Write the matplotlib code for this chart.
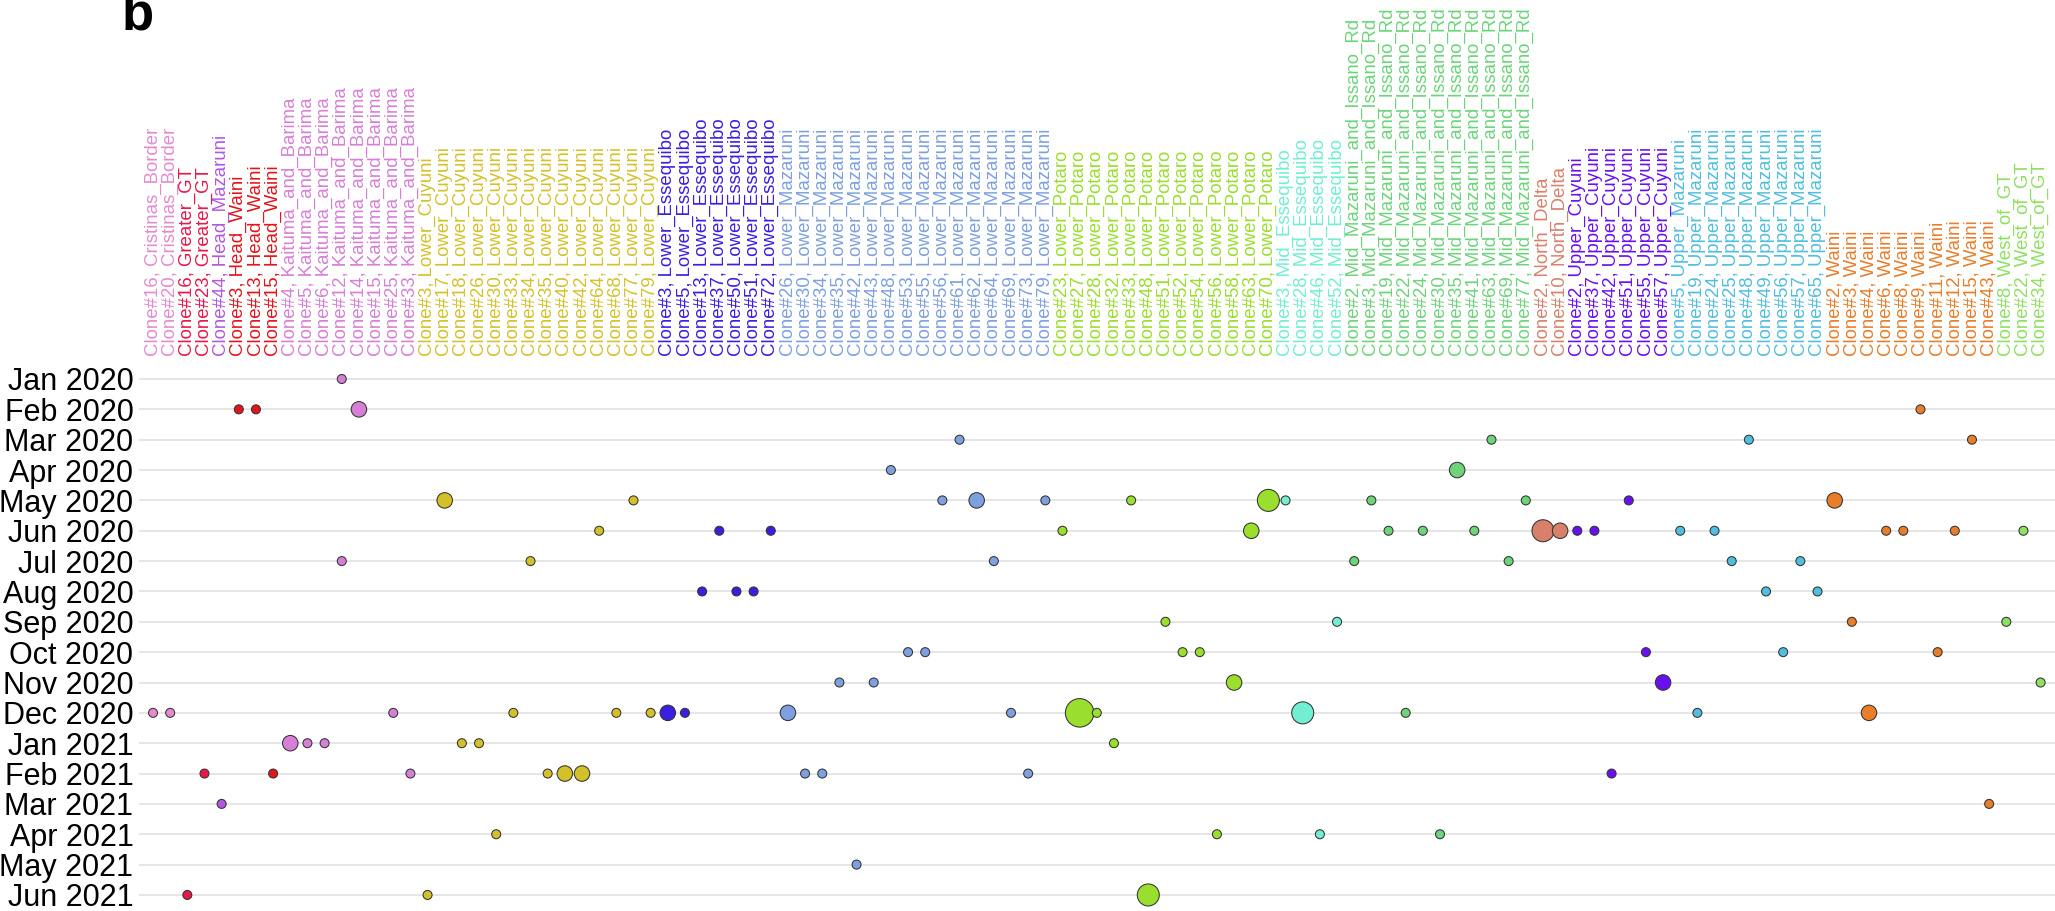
import matplotlib
matplotlib.use("Agg")
import matplotlib.pyplot as plt

plt.rcParams['font.family'] = ['Liberation Sans', 'DejaVu Sans']

months = ["Jan 2020", "Feb 2020", "Mar 2020", "Apr 2020", "May 2020", "Jun 2020",
          "Jul 2020", "Aug 2020", "Sep 2020", "Oct 2020", "Nov 2020", "Dec 2020",
          "Jan 2021", "Feb 2021", "Mar 2021", "Apr 2021", "May 2021", "Jun 2021"]

# clone numbers per region, in the order they appear on the x axis
regions = ["Cristinas_Border", "Greater_GT", "Head_Mazaruni", "Head_Waini",
           "Kaituma_and_Barima", "Lower_Cuyuni", "Lower_Essequibo", "Lower_Mazaruni",
           "Lower_Potaro", "Mid_Essequibo", "Mid_Mazaruni_and_Issano_Rd", "North_Delta",
           "Upper_Cuyuni", "Upper_Mazaruni", "Waini", "West_of_GT"]
region_clones = [
    [16, 20],
    [16, 23],
    [44],
    [3, 13, 15],
    [4, 5, 6, 12, 14, 15, 25, 33],
    [3, 17, 18, 26, 30, 33, 34, 35, 40, 42, 64, 68, 77, 79],
    [3, 5, 13, 37, 50, 51, 72],
    [26, 30, 34, 35, 42, 43, 48, 53, 55, 56, 61, 62, 64, 69, 73, 79],
    [23, 27, 28, 32, 33, 48, 51, 52, 54, 56, 58, 63, 70],
    [3, 28, 46, 52],
    [2, 3, 19, 22, 24, 30, 35, 41, 63, 69, 77],
    [2, 10],
    [2, 37, 42, 51, 55, 57],
    [5, 19, 24, 25, 48, 49, 56, 57, 65],
    [2, 3, 4, 6, 8, 9, 11, 12, 15, 43],
    [8, 22, 34],
]
region_colors = ["#E68AD0", "#E8174A", "#B357E0", "#E3141C", "#D77FD6", "#D4C12A",
                 "#3A1FE0", "#7EA0E0", "#9ADE2E", "#72EED2", "#6DD47A", "#D9806A",
                 "#6A10F0", "#50BEDF", "#E87D2A", "#8EE060"]

# (region, clone, month, count)
detections = [
    ("Kaituma_and_Barima", 12, "Jan 2020", 1),
    ("Head_Waini", 3, "Feb 2020", 1), ("Head_Waini", 13, "Feb 2020", 1),
    ("Kaituma_and_Barima", 14, "Feb 2020", 2), ("Waini", 9, "Feb 2020", 1),
    ("Lower_Mazaruni", 61, "Mar 2020", 1), ("Mid_Mazaruni_and_Issano_Rd", 63, "Mar 2020", 1),
    ("Upper_Mazaruni", 48, "Mar 2020", 1), ("Waini", 15, "Mar 2020", 1),
    ("Lower_Mazaruni", 48, "Apr 2020", 1), ("Mid_Mazaruni_and_Issano_Rd", 35, "Apr 2020", 2),
    ("Lower_Cuyuni", 17, "May 2020", 2), ("Lower_Cuyuni", 77, "May 2020", 1),
    ("Lower_Mazaruni", 56, "May 2020", 1), ("Lower_Mazaruni", 62, "May 2020", 2),
    ("Lower_Mazaruni", 79, "May 2020", 1), ("Lower_Potaro", 33, "May 2020", 1),
    ("Lower_Potaro", 70, "May 2020", 3), ("Mid_Essequibo", 3, "May 2020", 1),
    ("Mid_Mazaruni_and_Issano_Rd", 3, "May 2020", 1), ("Mid_Mazaruni_and_Issano_Rd", 77, "May 2020", 1),
    ("Upper_Cuyuni", 51, "May 2020", 1), ("Waini", 2, "May 2020", 2),
    ("Lower_Cuyuni", 64, "Jun 2020", 1), ("Lower_Essequibo", 37, "Jun 2020", 1),
    ("Lower_Essequibo", 72, "Jun 2020", 1), ("Lower_Potaro", 23, "Jun 2020", 1),
    ("Lower_Potaro", 63, "Jun 2020", 2), ("Mid_Mazaruni_and_Issano_Rd", 19, "Jun 2020", 1),
    ("Mid_Mazaruni_and_Issano_Rd", 24, "Jun 2020", 1), ("Mid_Mazaruni_and_Issano_Rd", 41, "Jun 2020", 1),
    ("North_Delta", 2, "Jun 2020", 3), ("North_Delta", 10, "Jun 2020", 2),
    ("Upper_Cuyuni", 2, "Jun 2020", 1), ("Upper_Cuyuni", 37, "Jun 2020", 1),
    ("Upper_Mazaruni", 5, "Jun 2020", 1), ("Upper_Mazaruni", 24, "Jun 2020", 1),
    ("Waini", 6, "Jun 2020", 1), ("Waini", 8, "Jun 2020", 1), ("Waini", 12, "Jun 2020", 1),
    ("West_of_GT", 22, "Jun 2020", 1),
    ("Kaituma_and_Barima", 12, "Jul 2020", 1), ("Lower_Cuyuni", 34, "Jul 2020", 1),
    ("Lower_Mazaruni", 64, "Jul 2020", 1), ("Mid_Mazaruni_and_Issano_Rd", 2, "Jul 2020", 1),
    ("Mid_Mazaruni_and_Issano_Rd", 69, "Jul 2020", 1), ("Upper_Mazaruni", 25, "Jul 2020", 1),
    ("Upper_Mazaruni", 57, "Jul 2020", 1),
    ("Lower_Essequibo", 13, "Aug 2020", 1), ("Lower_Essequibo", 50, "Aug 2020", 1),
    ("Lower_Essequibo", 51, "Aug 2020", 1), ("Upper_Mazaruni", 49, "Aug 2020", 1),
    ("Upper_Mazaruni", 65, "Aug 2020", 1),
    ("Lower_Potaro", 51, "Sep 2020", 1), ("Mid_Essequibo", 52, "Sep 2020", 1),
    ("Waini", 3, "Sep 2020", 1), ("West_of_GT", 8, "Sep 2020", 1),
    ("Lower_Mazaruni", 53, "Oct 2020", 1), ("Lower_Mazaruni", 55, "Oct 2020", 1),
    ("Lower_Potaro", 52, "Oct 2020", 1), ("Lower_Potaro", 54, "Oct 2020", 1),
    ("Upper_Cuyuni", 55, "Oct 2020", 1), ("Upper_Mazaruni", 56, "Oct 2020", 1),
    ("Waini", 11, "Oct 2020", 1),
    ("Lower_Mazaruni", 35, "Nov 2020", 1), ("Lower_Mazaruni", 43, "Nov 2020", 1),
    ("Lower_Potaro", 58, "Nov 2020", 2), ("Upper_Cuyuni", 57, "Nov 2020", 2),
    ("West_of_GT", 34, "Nov 2020", 1),
    ("Cristinas_Border", 16, "Dec 2020", 1), ("Cristinas_Border", 20, "Dec 2020", 1),
    ("Kaituma_and_Barima", 25, "Dec 2020", 1), ("Lower_Cuyuni", 33, "Dec 2020", 1),
    ("Lower_Cuyuni", 68, "Dec 2020", 1), ("Lower_Cuyuni", 79, "Dec 2020", 1),
    ("Lower_Essequibo", 3, "Dec 2020", 2), ("Lower_Essequibo", 5, "Dec 2020", 1),
    ("Lower_Mazaruni", 26, "Dec 2020", 2), ("Lower_Mazaruni", 69, "Dec 2020", 1),
    ("Lower_Potaro", 27, "Dec 2020", 4), ("Lower_Potaro", 28, "Dec 2020", 1),
    ("Mid_Essequibo", 28, "Dec 2020", 3), ("Mid_Mazaruni_and_Issano_Rd", 22, "Dec 2020", 1),
    ("Upper_Mazaruni", 19, "Dec 2020", 1), ("Waini", 4, "Dec 2020", 2),
    ("Kaituma_and_Barima", 4, "Jan 2021", 2), ("Kaituma_and_Barima", 5, "Jan 2021", 1),
    ("Kaituma_and_Barima", 6, "Jan 2021", 1), ("Lower_Cuyuni", 18, "Jan 2021", 1),
    ("Lower_Cuyuni", 26, "Jan 2021", 1), ("Lower_Potaro", 32, "Jan 2021", 1),
    ("Greater_GT", 23, "Feb 2021", 1), ("Head_Waini", 15, "Feb 2021", 1),
    ("Kaituma_and_Barima", 33, "Feb 2021", 1), ("Lower_Cuyuni", 35, "Feb 2021", 1),
    ("Lower_Cuyuni", 40, "Feb 2021", 2), ("Lower_Cuyuni", 42, "Feb 2021", 2),
    ("Lower_Mazaruni", 30, "Feb 2021", 1), ("Lower_Mazaruni", 34, "Feb 2021", 1),
    ("Lower_Mazaruni", 73, "Feb 2021", 1), ("Upper_Cuyuni", 42, "Feb 2021", 1),
    ("Head_Mazaruni", 44, "Mar 2021", 1), ("Waini", 43, "Mar 2021", 1),
    ("Lower_Cuyuni", 30, "Apr 2021", 1), ("Lower_Potaro", 56, "Apr 2021", 1),
    ("Mid_Essequibo", 46, "Apr 2021", 1), ("Mid_Mazaruni_and_Issano_Rd", 30, "Apr 2021", 1),
    ("Lower_Mazaruni", 42, "May 2021", 1),
    ("Greater_GT", 16, "Jun 2021", 1), ("Lower_Cuyuni", 3, "Jun 2021", 1),
    ("Lower_Potaro", 48, "Jun 2021", 3),
]

# x axis categories
labels, label_colors = [], []
for reg, nums, col in zip(regions, region_clones, region_colors):
    for n in nums:
        labels.append(f"Clone#{n}, {reg}")
        label_colors.append(col)
color_of = dict(zip(regions, region_colors))

W, H = 2055, 911
fig = plt.figure(figsize=(W / 100, H / 100), dpi=100)
# axes in pixel terms
ax_left, ax_top = 139, 366
ax = fig.add_axes([ax_left / W, 0, 1 - ax_left / W, 1 - ax_top / H])

xs = [labels.index(f"Clone#{c}, {r}") for r, c, m, k in detections]
ys = [months.index(m) for r, c, m, k in detections]
cols = [color_of[r] for r, c, m, k in detections]
sizes = [((6.5 * k + 2.5) * 0.72) ** 2 for r, c, m, k in detections]

ax.scatter(xs, ys, s=sizes, c=cols, edgecolors="#333333", linewidths=0.75,
           zorder=3, clip_on=False)

step_x = 17.16
step_y = 30.35
row0 = 379
ax.set_xlim(-(153 - ax_left) / step_x, 110 + (W - 2040.6) / step_x)
ax.set_ylim(17 + (H - (row0 + 17 * step_y)) / step_y, -(row0 - ax_top) / step_y)

ax.set_yticks(range(len(months)))
ax.set_yticklabels(months, fontsize=22)
ax.yaxis.grid(True, color="#e4e4e4", linewidth=1.3)
ax.set_axisbelow(True)

ax.xaxis.tick_top()
ax.set_xticks(range(len(labels)))
ax.set_xticklabels(labels, rotation=90, fontsize=13.4, va="bottom")
for t, col in zip(ax.get_xticklabels(), label_colors):
    t.set_color(col)

ax.tick_params(axis="x", length=0, pad=7.5)
ax.tick_params(axis="y", length=0, pad=4)
for s in ax.spines.values():
    s.set_visible(False)

fig.text(122 / W, 1 - 29 / H, "b", fontsize=38, fontweight="bold", va="baseline")

fig.savefig("out.png", dpi=100)
